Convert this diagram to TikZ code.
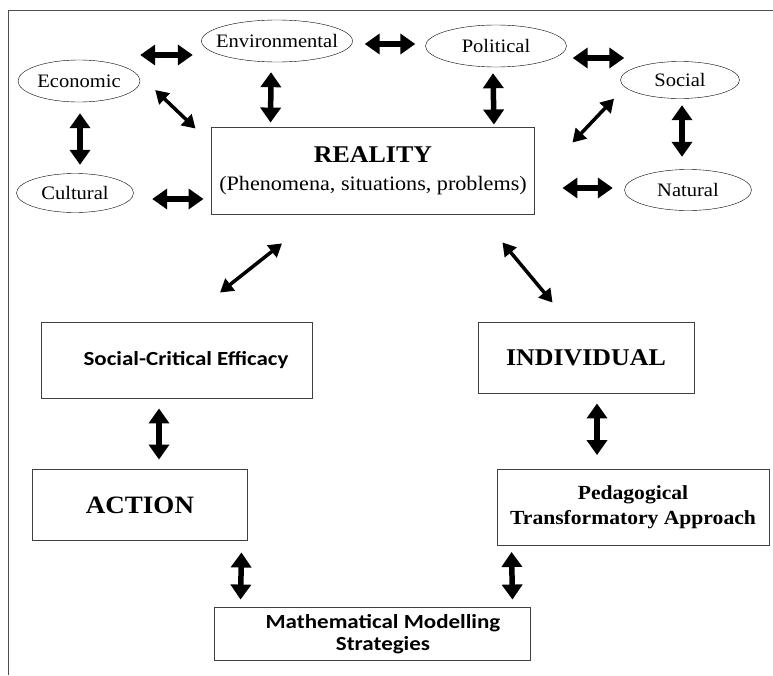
\documentclass[tikz,border=0pt]{standalone}
\usepackage{fontspec}
\setmainfont{Liberation Serif}[FakeStretch=1.08]
\newfontfamily\calibri{Carlito}[FakeStretch=1.15]
\usetikzlibrary{shapes.geometric,arrows.meta}

\begin{document}
\begin{tikzpicture}[x=1pt,y=1pt,
	aspect/.style={shape=ellipse, draw, thin, inner xsep=-8pt, inner ysep=0pt, font=\fontsize{19}{22}\selectfont},
	block/.style={shape=rectangle, draw=black!75, line width=0.9pt, inner sep=0pt, align=center},
	twoway/.style={line width=5.5pt, {Triangle[length=15pt,width=20pt]}-{Triangle[length=15pt,width=20pt]}},
	slant/.style={line width=3.5pt, {Triangle[length=13pt,width=15pt]}-{Triangle[length=13pt,width=15pt]}}]
	\useasboundingbox (0,0) rectangle (773,-675);
	\draw[black!70, line width=1pt] (773,-10) -- (8,-10) -- (8,-675);

	\node[aspect, minimum width=122pt, minimum height=42pt] (eco) at (79,-81) {Economic};
	\node[aspect, minimum width=151pt, minimum height=42pt] (env) at (277,-41) {Environmental};
	\node[aspect, minimum width=141pt, minimum height=42pt] (pol) at (496,-46) {Political};
	\node[aspect, minimum width=119pt, minimum height=37pt] (soc) at (680,-80) {Social};
	\node[aspect, minimum width=127pt, minimum height=41pt] (nat) at (688,-190) {Natural};
	\node[aspect, minimum width=117pt, minimum height=39pt] (cul) at (75,-193) {Cultural};

	\node[block, minimum width=323pt, minimum height=87pt, font=\fontsize{20.5}{28}\selectfont] (reality) at (373,-171)
		{{\fontsize{24}{28}\selectfont\bfseries REALITY}\\(Phenomena, situations, problems)};
	\node[block, minimum width=271pt, minimum height=76pt, font=\calibri\bfseries\fontsize{20}{24}\selectfont] (efficacy) at (177,-360) {\hspace*{18pt}Social-Critical Efficacy};
	\node[block, minimum width=216pt, minimum height=71pt, font=\bfseries\fontsize{24}{28}\selectfont] (individual) at (586,-358) {INDIVIDUAL};
	\node[block, minimum width=215pt, minimum height=71pt, font=\bfseries\fontsize{25}{28}\selectfont] (action) at (140,-505) {ACTION};
	\node[block, minimum width=272pt, minimum height=76pt, font=\bfseries\fontsize{20}{25}\selectfont] (pedag) at (633,-507) {Pedagogical\\Transformatory Approach};
	\node[block, minimum width=316pt, minimum height=53pt, font=\calibri\bfseries\fontsize{20}{22}\selectfont] (model) at (372,-634) {\hspace*{22pt}Mathematical Modelling\\\hspace*{22pt}Strategies};

	% arrows round the reality box
	\draw[twoway] ([yshift=26pt]eco.east) -- ([xshift=-8.5pt,yshift=-14pt]env.west);
	\draw[twoway] ([xshift=12pt,yshift=-3pt]env.east) -- ([xshift=-10pt,yshift=2pt]pol.west);
	\draw[twoway] ([xshift=6pt,yshift=-12pt]pol.east) -- ([xshift=4pt,yshift=22pt]soc.west);
	\draw[twoway] ([xshift=-6pt,yshift=-10pt]env.south) -- ([xshift=59.5pt,yshift=4.5pt]reality.north west);
	\draw[twoway] ([xshift=-3pt,yshift=-6pt]pol.south) -- ([xshift=-41pt,yshift=2.5pt]reality.north east);
	\draw[slant] ([xshift=15pt,yshift=-9pt]eco.east) -- ([xshift=-15.5pt,yshift=-1.5pt]reality.north west);
	\draw[slant] ([xshift=-66pt]soc.south) -- ([xshift=37.5pt,yshift=-15.5pt]reality.north east);
	\draw[twoway] ([xshift=1pt,yshift=-11pt]eco.south) -- ([xshift=5pt,yshift=8.5pt]cul.north);
	\draw[twoway] ([xshift=18.5pt,yshift=-6pt]cul.east) -- ([xshift=-7.5pt,yshift=-28pt]reality.west);
	\draw[twoway] ([xshift=27.5pt,yshift=-17pt]reality.east) -- ([xshift=-11.5pt,yshift=2pt]nat.west);
	\draw[twoway] ([xshift=2pt,yshift=-6.5pt]soc.south) -- ([xshift=-6pt,yshift=12.5pt]nat.north);

	% lower part
	\draw[slant] ([xshift=-91pt,yshift=-28.5pt]reality.south) -- ([xshift=43pt,yshift=29pt]efficacy.north);
	\draw[slant] ([xshift=-32.5pt,yshift=-27.5pt]reality.south east) -- ([xshift=75pt,yshift=19.5pt]individual.north west);
	\draw[twoway] ([xshift=-18pt,yshift=-10pt]efficacy.south) -- ([xshift=19pt,yshift=9.5pt]action.north);
	\draw[twoway] ([xshift=11pt,yshift=-9.5pt]individual.south) -- ([xshift=-36pt,yshift=13.5pt]pedag.north);
	\draw[twoway] ([xshift=-6.5pt,yshift=-11.5pt]action.south east) -- ([xshift=27pt,yshift=7.5pt]model.north west);
	\draw[twoway] ([xshift=15pt,yshift=-6.5pt]pedag.south west) -- ([xshift=-18pt,yshift=7.5pt]model.north east);
\end{tikzpicture}
\end{document}
